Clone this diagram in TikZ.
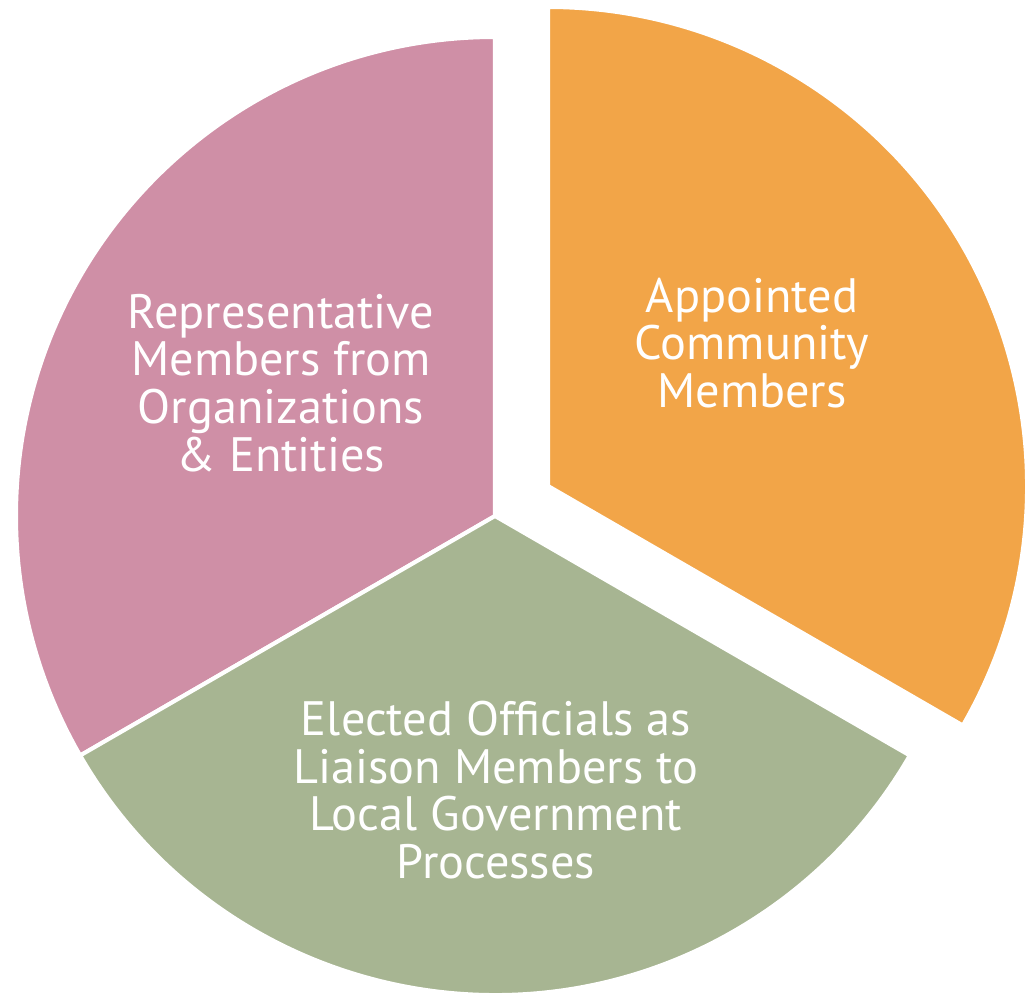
\documentclass[tikz,border=0pt]{standalone}
\usepackage{fontspec}
\setmainfont{PT Sans}
\definecolor{couleurrose}{HTML}{CF8FA6}
\definecolor{couleurorange}{HTML}{F2A548}
\definecolor{couleurvert}{HTML}{A7B592}
\newcommand{\secteur}[4]{\fill[#1, draw=white, line width=2.3pt, line join=round] (#2) -- ++(#3:479) arc (#3:#4:479) -- cycle;}
\tikzset{
	etiquette/.style={text=white, align=center, inner sep=0pt, font=\fontsize{27.5}{27.2}\selectfont}
}
\begin{document}
\begin{tikzpicture}[x=0.02cm, y=0.02cm]
	\useasboundingbox (0,0) rectangle (1032,993);
	% centres
	\coordinate (centre) at (495,477);
	\coordinate (centreexpl) at (548,507);
	% secteurs
	\secteur{couleurrose}{centre}{90}{210}
	\secteur{couleurvert}{centre}{210}{330}
	\secteur{couleurorange}{centreexpl}{-30}{90}
	% textes
	\node[etiquette] (represen) at (281,610) {Representative\\Members from\\Organizations\\\& Entities};
	\node[etiquette] (appointe) at (752,650) {Appointed\\Community\\Members};
	\node[etiquette] (elected) at (496,203) {Elected Officials as\\Liaison Members to\\Local Government\\Processes};
\end{tikzpicture}
\end{document}
